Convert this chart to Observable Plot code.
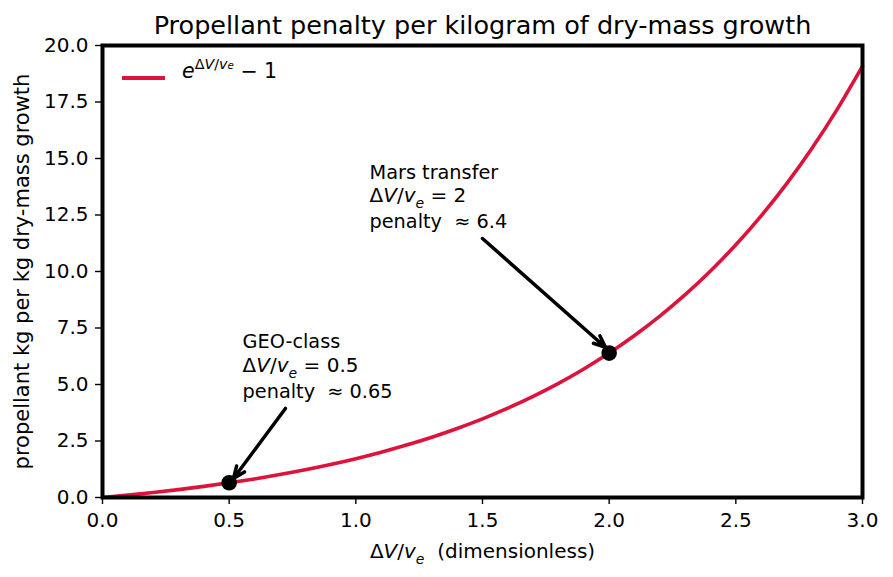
<!DOCTYPE html>
<html><head><meta charset="utf-8">
<script src="https://cdn.jsdelivr.net/npm/d3@7"></script>
<script src="https://cdn.jsdelivr.net/npm/@observablehq/plot@0.6"></script>
<style>
body{margin:0;background:#fff}
svg{font-family:"DejaVu Sans",sans-serif}
</style>
</head><body><div id="chart"></div>
<script>
// ---- data ----
const ratio   = [0,0.1,0.2,0.3,0.4,0.5,0.6,0.7,0.8,0.9,1.0,1.1,1.2,1.3,1.4,1.5,1.6,1.7,1.8,1.9,2.0,2.1,2.2,2.3,2.4,2.5,2.6,2.7,2.8,2.9,3.0];
const penalty = [0,0.105,0.221,0.350,0.492,0.649,0.822,1.014,1.226,1.460,1.718,2.004,2.320,2.669,3.055,3.482,3.953,4.474,5.050,5.686,6.389,7.166,8.025,8.974,10.023,11.182,12.464,13.880,15.445,17.174,19.086];
const markerRatio   = [0.5, 2.0];
const markerPenalty = [0.65, 6.39];
const xTicks = [0,0.5,1.0,1.5,2.0,2.5,3.0];
const yTicks = [0,2.5,5,7.5,10,12.5,15,17.5,20];
const noteText = ["GEO-class","@geo","penalty  ≈ 0.65","Mars transfer","@mars","penalty  ≈ 6.4"];
const noteX = [0.553,0.553,0.553,1.054,1.054,1.054];
const noteY = [6.90,5.84,4.69,14.38,13.36,12.21];
const arrowX1 = [0.722, 1.500];
const arrowY1 = [3.94, 11.46];
const arrowX2 = [0.517, 1.986];
const arrowY2 = [0.84, 6.64];
const titleText = "Propellant penalty per kilogram of dry-mass growth";
const yLabel = "propellant kg per kg dry-mass growth";
const curveColor = "#dc143c";

const curve = ratio.map((r,i)=>({r, p: penalty[i]}));
const markers = markerRatio.map((r,i)=>({r, p: markerPenalty[i]}));
const notes = noteText.map((t,i)=>({t, x: noteX[i], y: noteY[i]}));
const arrows = arrowX1.map((x,i)=>({x1:x, y1:arrowY1[i], x2:arrowX2[i], y2:arrowY2[i]}));

const FS = 20;
const chart = Plot.plot({
  width: 893, height: 577,
  marginLeft: 102, marginRight: 31, marginTop: 45, marginBottom: 80,
  style: {fontFamily: "DejaVu Sans", fontSize: FS + "px", color: "black", background: "white"},
  x: {domain: [0,3]},
  y: {domain: [0,20]},
  marks: [
    Plot.axisX({ticks: xTicks, tickFormat: d => d.toFixed(1), tickSize: 7, tickPadding: 8, fontSize: FS, label: null, strokeWidth: 1.4}),
    Plot.axisY({ticks: yTicks, tickFormat: d => d.toFixed(1), tickSize: 7, tickPadding: 7, fontSize: FS, label: null, strokeWidth: 1.4}),
    Plot.line(curve, {x: "r", y: "p", stroke: curveColor, strokeWidth: 3.6, curve: "monotone-x"}),
    Plot.arrow(arrows, {x1:"x1", y1:"y1", x2:"x2", y2:"y2", stroke:"black", strokeWidth: 3.5, headLength: 5.5, headAngle: 45}),
    Plot.dot(markers, {x: "r", y: "p", r: 7.8, fill: "black"}),
    Plot.text(notes, {x: "x", y: "y", text: "t", textAnchor: "start", lineAnchor: "middle", fontSize: 19.3, fill: "black"}),
    Plot.text([titleText], {frameAnchor: "top", dy: -20, fontSize: 25.5, fill: "black", lineAnchor: "middle"}),
    Plot.text(["@xlabel"], {frameAnchor: "bottom", dy: 54, fontSize: 21, fill: "black", lineAnchor: "middle"}),
    Plot.text([yLabel], {frameAnchor: "left", dx: -80, rotate: -90, textAnchor: "middle", fontSize: 21, fill: "black", lineAnchor: "middle"}),
    Plot.frame({stroke: "black", strokeWidth: 4})
  ]
});
document.getElementById("chart").append(chart);

// rich (math-style) text
function rich(el, tokens) {
  const base = parseFloat(el.getAttribute("font-size")) || FS;
  el.textContent = "";
  let shift = 0;
  for (const tk of tokens) {
    const target = tk.sub ? base*0.3 : tk.sup ? -base*0.42 : 0;
    const ts = document.createElementNS("http://www.w3.org/2000/svg","tspan");
    ts.textContent = tk.t;
    if (tk.i) ts.setAttribute("font-style","italic");
    const sz = base * (tk.size || 1);
    ts.setAttribute("font-size", sz);
    ts.setAttribute("dy", target - shift);
    shift = target;
    el.appendChild(ts);
  }
}
const ratioTokens = [{t:"Δ"},{t:"V",i:1},{t:"/"},{t:"v",i:1},{t:"e",i:1,sub:1,size:0.7}];
const svg = d3.select(chart.tagName === "svg" ? chart : chart.querySelector("svg"));
svg.selectAll("text").each(function(){
  const s = this.textContent;
  if (s === "@geo") rich(this, [...ratioTokens, {t:" = 0.5"}]);
  else if (s === "@mars") rich(this, [...ratioTokens, {t:" = 2"}]);
  else if (s === "@xlabel") rich(this, [...ratioTokens, {t:"  (dimensionless)"}]);
});

// legend
const lg = svg.append("g");
lg.append("line").attr("x1",122).attr("x2",165).attr("y1",78).attr("y2",78)
  .attr("stroke",curveColor).attr("stroke-width",4);
const lt = lg.append("text").attr("x",182).attr("y",78).attr("dy","0.35em")
  .attr("text-anchor","start").attr("font-size",20.5).attr("fill","black").node();
rich(lt, [{t:"e",i:1},
  {t:"Δ",sup:1,size:0.7},{t:"V",i:1,sup:1,size:0.7},{t:"/",sup:1,size:0.7},{t:"v",i:1,sup:1,size:0.7},
  {t:"e",i:1,sup:1,size:0.5},{t:" − 1"}]);
</script>
</body></html>
